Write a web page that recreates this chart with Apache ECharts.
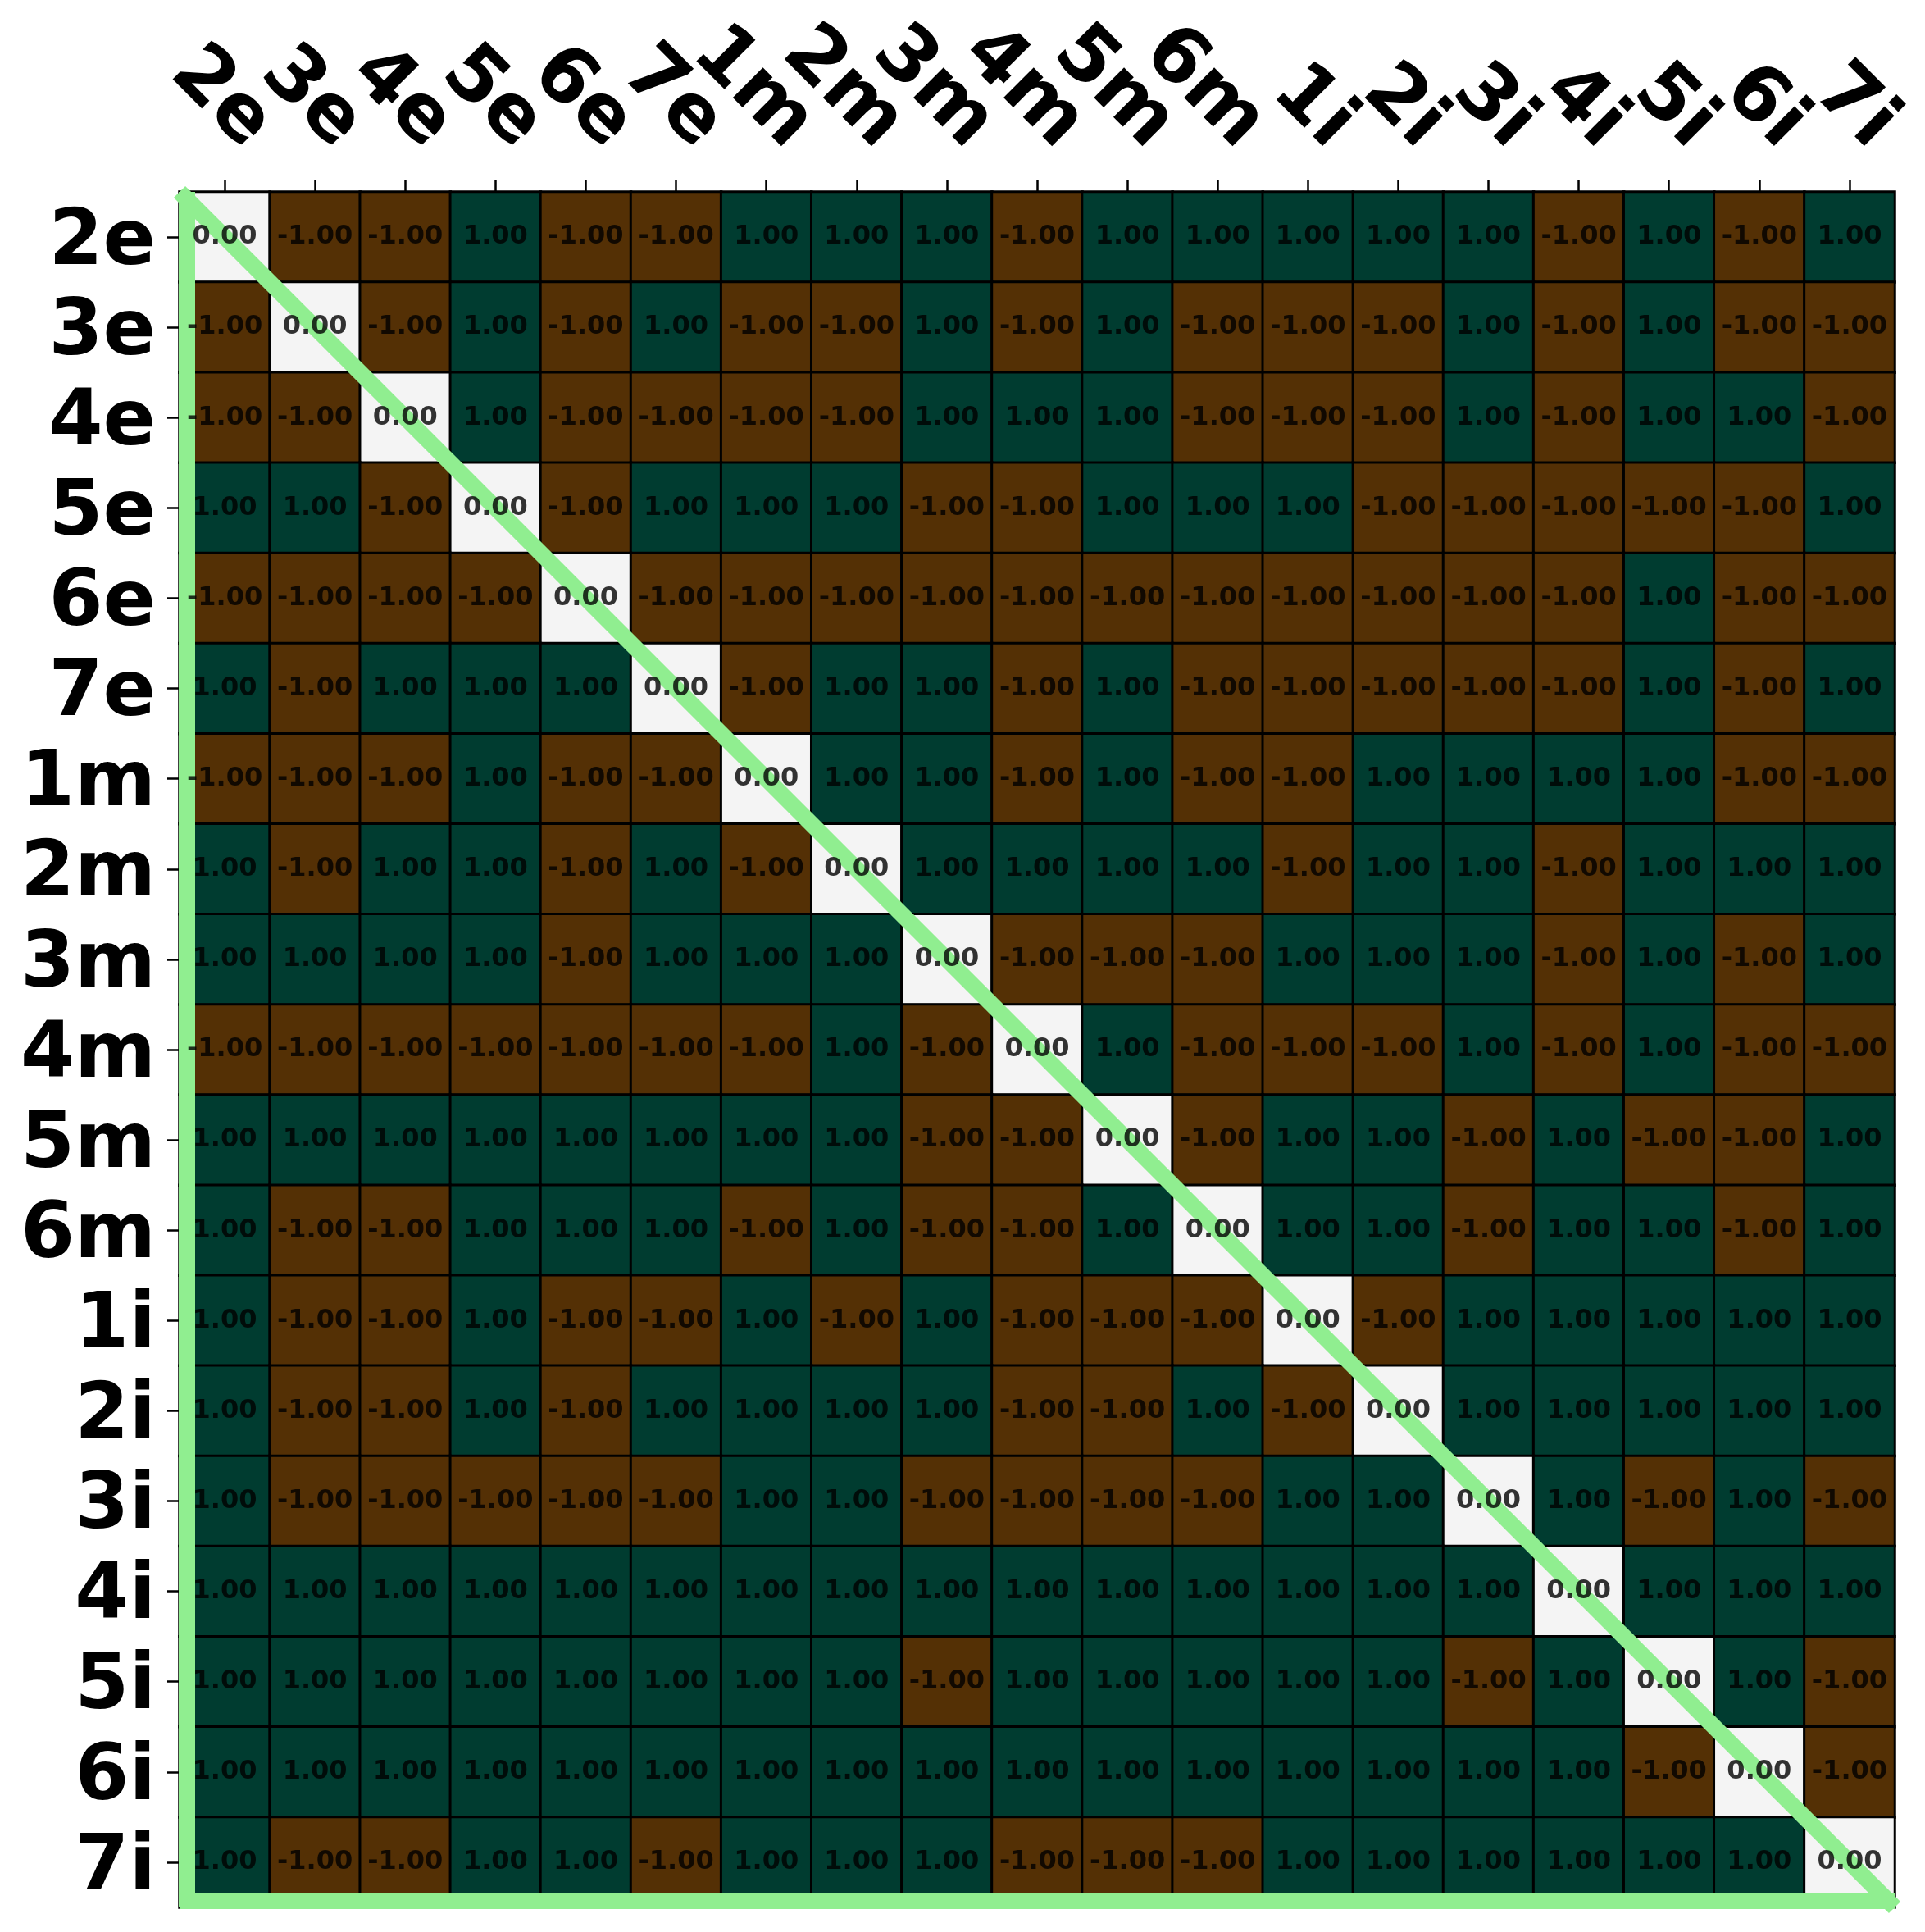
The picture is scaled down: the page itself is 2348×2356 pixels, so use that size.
<!DOCTYPE html>
<html>
<head>
<meta charset="utf-8">
<script src="https://cdn.jsdelivr.net/npm/echarts@6/dist/echarts.min.js"></script>
<style>
html,body{margin:0;padding:0;background:#ffffff;}
#chart{width:2348px;height:2356px;}
</style>
</head>
<body>
<div id="chart"></div>
<script>
// Category labels (x across the top, y down the left)
const labels = ['2e','3e','4e','5e','6e','7e','1m','2m','3m','4m','5m','6m','1i','2i','3i','4i','5i','6i','7i'];

// One row of values per y category
const r2e = [ 0,-1,-1, 1,-1,-1, 1, 1, 1,-1, 1, 1, 1, 1, 1,-1, 1,-1, 1];
const r3e = [-1, 0,-1, 1,-1, 1,-1,-1, 1,-1, 1,-1,-1,-1, 1,-1, 1,-1,-1];
const r4e = [-1,-1, 0, 1,-1,-1,-1,-1, 1, 1, 1,-1,-1,-1, 1,-1, 1, 1,-1];
const r5e = [ 1, 1,-1, 0,-1, 1, 1, 1,-1,-1, 1, 1, 1,-1,-1,-1,-1,-1, 1];
const r6e = [-1,-1,-1,-1, 0,-1,-1,-1,-1,-1,-1,-1,-1,-1,-1,-1, 1,-1,-1];
const r7e = [ 1,-1, 1, 1, 1, 0,-1, 1, 1,-1, 1,-1,-1,-1,-1,-1, 1,-1, 1];
const r1m = [-1,-1,-1, 1,-1,-1, 0, 1, 1,-1, 1,-1,-1, 1, 1, 1, 1,-1,-1];
const r2m = [ 1,-1, 1, 1,-1, 1,-1, 0, 1, 1, 1, 1,-1, 1, 1,-1, 1, 1, 1];
const r3m = [ 1, 1, 1, 1,-1, 1, 1, 1, 0,-1,-1,-1, 1, 1, 1,-1, 1,-1, 1];
const r4m = [-1,-1,-1,-1,-1,-1,-1, 1,-1, 0, 1,-1,-1,-1, 1,-1, 1,-1,-1];
const r5m = [ 1, 1, 1, 1, 1, 1, 1, 1,-1,-1, 0,-1, 1, 1,-1, 1,-1,-1, 1];
const r6m = [ 1,-1,-1, 1, 1, 1,-1, 1,-1,-1, 1, 0, 1, 1,-1, 1, 1,-1, 1];
const r1i = [ 1,-1,-1, 1,-1,-1, 1,-1, 1,-1,-1,-1, 0,-1, 1, 1, 1, 1, 1];
const r2i = [ 1,-1,-1, 1,-1, 1, 1, 1, 1,-1,-1, 1,-1, 0, 1, 1, 1, 1, 1];
const r3i = [ 1,-1,-1,-1,-1,-1, 1, 1,-1,-1,-1,-1, 1, 1, 0, 1,-1, 1,-1];
const r4i = [ 1, 1, 1, 1, 1, 1, 1, 1, 1, 1, 1, 1, 1, 1, 1, 0, 1, 1, 1];
const r5i = [ 1, 1, 1, 1, 1, 1, 1, 1,-1, 1, 1, 1, 1, 1,-1, 1, 0, 1,-1];
const r6i = [ 1, 1, 1, 1, 1, 1, 1, 1, 1, 1, 1, 1, 1, 1, 1, 1,-1, 0,-1];
const r7i = [ 1,-1,-1, 1, 1,-1, 1, 1, 1,-1,-1,-1, 1, 1, 1, 1, 1, 1, 0];

const rows = [r2e,r3e,r4e,r5e,r6e,r7e,r1m,r2m,r3m,r4m,r5m,r6m,r1i,r2i,r3i,r4i,r5i,r6i,r7i];

// Decorative diagonal guide in cell units (0..19)
const diagonalLine = [[0, 0], [19, 19]];

const cells = [];
rows.forEach((row, yi) => row.forEach((v, xi) => cells.push([xi, yi, v])));

const FONT = 'DejaVu Sans';
const GREEN = '#90ee90';
const G = {left: 219, top: 234, width: 2092, height: 2092, containLabel: false, outerBoundsMode: 'none'};

const chart = echarts.init(document.getElementById('chart'), null, {renderer: 'canvas'});
chart.setOption({
  animation: false,
  backgroundColor: '#ffffff',
  grid: [Object.assign({}, G), Object.assign({}, G)],
  xAxis: [
    {
      type: 'category', data: labels, position: 'top', gridIndex: 0,
      boundaryGap: true,
      axisLine: {show: false},
      axisTick: {show: true, alignWithLabel: true, length: 15, lineStyle: {color: '#000', width: 2.5}},
      axisLabel: {
        interval: 0, rotate: 45, margin: 109, padding: [0, -58, 0, 0],
        fontFamily: FONT, fontWeight: 'bold', fontSize: 95, color: '#000'
      },
      splitLine: {show: false}
    },
    {
      type: 'value', gridIndex: 1, min: 0, max: 19, position: 'bottom', offset: -8.5, z: 2,
      axisLine: {show: true, onZero: false, lineStyle: {color: GREEN, width: 20, cap: 'butt'}},
      axisTick: {show: false}, axisLabel: {show: false}, splitLine: {show: false}
    }
  ],
  yAxis: [
    {
      type: 'category', data: labels, inverse: true, gridIndex: 0,
      boundaryGap: true,
      axisLine: {show: false},
      axisTick: {show: true, alignWithLabel: true, length: 15, lineStyle: {color: '#000', width: 2.5}},
      axisLabel: {
        interval: 0, margin: 29, verticalAlign: 'top', lineHeight: 16,
        fontFamily: FONT, fontWeight: 'bold', fontSize: 95, color: '#000'
      },
      splitLine: {show: false}
    },
    {
      type: 'value', gridIndex: 1, min: 0, max: 19, inverse: true, position: 'left', offset: -8.5, z: 2,
      axisLine: {show: true, onZero: false, lineStyle: {color: GREEN, width: 20, cap: 'butt'}},
      axisTick: {show: false}, axisLabel: {show: false}, splitLine: {show: false}
    }
  ],
  visualMap: {
    type: 'piecewise', show: false, seriesIndex: 0, dimension: 2,
    pieces: [
      {value: -1, color: '#543005'},
      {value: 0, color: '#f4f4f4'},
      {value: 1, color: '#003c30'}
    ]
  },
  series: [
    {
      type: 'heatmap', xAxisIndex: 0, yAxisIndex: 0, data: cells, z: 1,
      itemStyle: {borderColor: '#000', borderWidth: 3},
      label: {show: false},
      emphasis: {disabled: true}
    },
    {
      type: 'line', xAxisIndex: 1, yAxisIndex: 1, data: diagonalLine, z: 2,
      symbol: 'none', clip: true,
      lineStyle: {color: GREEN, width: 20, cap: 'butt'}
    },
    {
      type: 'scatter', xAxisIndex: 0, yAxisIndex: 0, data: cells, z: 3,
      symbolSize: 1, itemStyle: {color: 'rgba(0,0,0,0)'},
      label: {
        show: true, position: 'inside',
        formatter: p => p.value[2].toFixed(2),
        fontFamily: FONT, fontWeight: 'bold', fontSize: 32, color: '#000'
      },
      emphasis: {disabled: true}
    }
  ]
});
</script>
</body>
</html>
